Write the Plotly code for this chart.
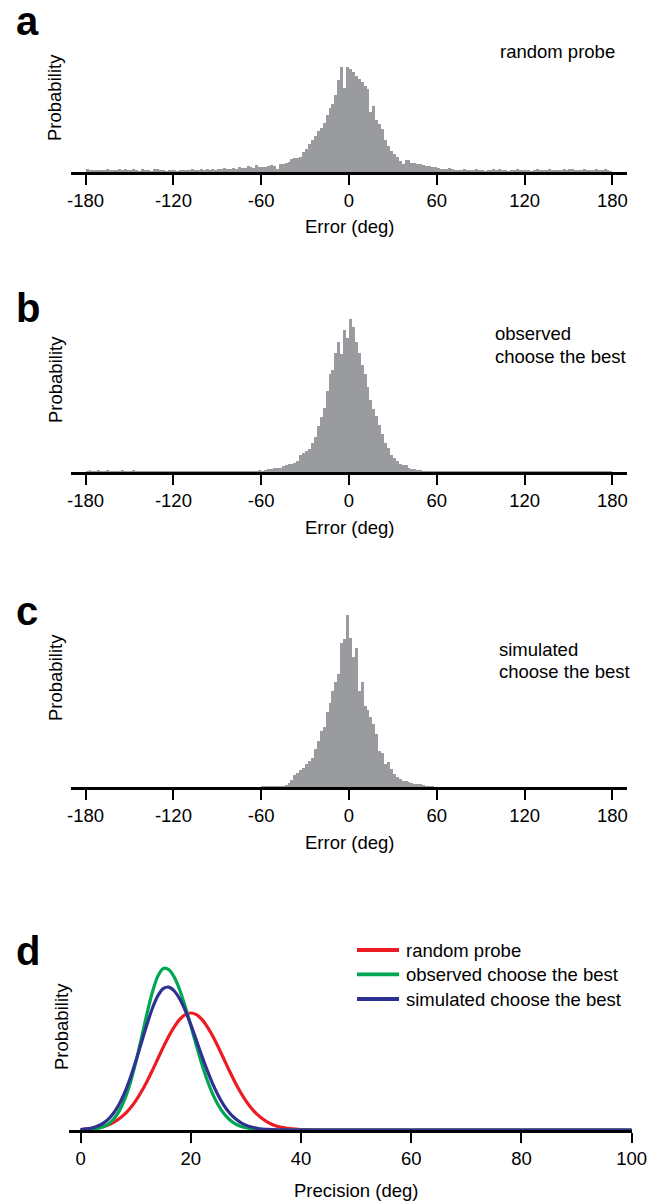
import plotly.graph_objects as go

# ---------------- data ----------------
err_bins = list(range(-179, 180, 2))

random_probe = [
    3, 2.5, 2.5, 2, 2, 2.5, 2, 3, 2.5, 2,
    2.5, 3, 2, 3.5, 2.5, 2, 3, 2.5, 1.5, 3,
    2, 2, 1.5, 3, 3.5, 2.5, 2, 1.5, 2, 2.5,
    2, 1.5, 2.5, 2, 2.5, 2, 3, 2.5, 2, 3,
    2.5, 3, 2.5, 3, 2, 3.5, 3, 4, 3.5, 3,
    4, 3.5, 5, 4.5, 4, 6, 5, 4, 6.5, 5,
    5.5, 5.5, 6, 6.5, 6, 3.5, 8, 8, 8.5, 9.5,
    13, 13.5, 14, 15, 19.5, 22, 27, 31, 34.5, 39,
    42.5, 47, 55, 61.5, 65.5, 74, 88, 100, 80, 100,
    98, 96, 92, 89, 86, 82, 79, 57, 63, 50,
    46, 41, 31, 25, 20, 17.5, 15, 11, 7.5, 12,
    12, 9, 8.5, 8, 7.5, 7, 6, 6, 5.5, 5,
    4.5, 3, 3.5, 3, 4, 3, 2.5, 2, 2.5, 3,
    2, 2.5, 2, 3, 2.5, 2, 1.5, 2.5, 2, 3,
    2.5, 3, 2, 2, 1.5, 2.5, 2, 3, 2.5, 2,
    2, 2.5, 1.5, 2, 3, 2.5, 2.5, 2, 3, 2.5,
    2, 2, 2.5, 3, 2.5, 3.5, 3, 2.5, 2, 2.5,
    3, 2.5, 2, 2.5, 3, 2.5, 2, 3, 2, 1.5,
]

observed_best = [
    1, 1.2, 0.8, 1, 1.3, 1, 0.8, 1.2, 1, 0.8,
    1, 0.8, 1.2, 1, 0.7, 1, 1.3, 0.8, 1, 0.7,
    0.8, 1, 0.6, 1, 0.8, 0.7, 1, 0.8, 0.6, 1,
    0.7, 0.5, 0.8, 0.6, 0.7, 0.9, 0.5, 0.6, 0.8, 0.5,
    0.6, 0.5, 0.7, 0.5, 0.6, 0.8, 0.5, 0.6, 0.7, 0.6,
    0.6, 0.8, 0.7, 0.6, 0.8, 0.7, 0.9, 1, 0.8, 1.2,
    1, 1.5, 2, 2, 2.5, 2.5, 3, 4, 4.5, 5.5,
    5.5, 6, 7, 11, 12.5, 14, 15, 19, 23, 30,
    36, 42, 53, 64, 67, 78, 85, 77, 93, 88,
    100, 95, 85, 78, 70, 64, 56, 47, 41, 37,
    31, 25, 19, 15.5, 11, 9, 7, 5.5, 5, 4.5,
    2.6, 2, 2, 1.5, 1.2, 1, 1, 0.8, 0.8, 0.6,
    0.6, 0.8, 0.5, 1, 0.6, 0.7, 0.5, 0.6, 0.8, 0.5,
    0.5, 0.6, 0.7, 0.5, 0.6, 0.5, 0.8, 0.6, 0.5, 0.6,
    0.7, 0.5, 0.6, 0.8, 0.6, 0.5, 0.7, 0.6, 0.5, 0.8,
    0.6, 0.7, 0.5, 0.9, 0.6, 0.7, 0.5, 0.6, 0.8, 0.6,
    0.7, 0.6, 0.8, 0.5, 0.7, 0.6, 0.9, 0.7, 0.6, 0.8,
    0.7, 0.8, 0.6, 0.7, 0.9, 0.6, 0.8, 0.7, 0.6, 0.5,
]

simulated_best = [0] * 60 + [
    0.3, 0.4, 0.5, 0.5, 0.6, 0.6, 0.8, 1, 1.5, 2.5,
    4.5, 7, 8.5, 10, 11, 13.5, 15.5, 17, 22, 27,
    33, 35, 44, 49, 56, 61, 66, 84, 86, 100,
    87, 76, 81, 56, 61, 47, 45, 41, 37, 31,
    21, 20, 13.5, 14.5, 10.7, 7.8, 5.8, 4.9, 3.9, 3.5,
    2.9, 2.3, 2.1, 2, 1.8, 1.5, 1, 0.8, 0.4, 0,
] + [0] * 60

err_ticks = [-180, -120, -60, 0, 60, 120, 180]
err_ticktext = ["-180", "-120", "-60", "0", "60", "120", "180"]

precision = [0, 1, 2, 3, 4, 5, 6, 7, 8, 9, 10, 11, 12, 13, 14, 15, 16, 17, 18, 19,
             20, 21, 22, 23, 24, 25, 26, 27, 28, 29, 30, 31, 32, 33, 34, 35, 36, 37,
             38, 39, 40, 41, 42, 43, 44, 45, 50, 60, 70, 80, 90, 100]
p_random = [0.5, 0.8, 1.3, 2.1, 3.3, 5.1, 7.7, 11.2, 15.8, 21.8, 29.2, 38.0, 48.1,
            59.2, 71.0, 82.7, 93.7, 103.2, 110.7, 115.4, 117, 115.4, 110.7, 103.2,
            93.7, 82.7, 71.0, 59.2, 48.1, 38.0, 29.2, 21.8, 15.8, 11.2, 7.7, 5.1,
            3.3, 2.1, 1.3, 0.8, 0.5, 0.3, 0.2, 0.1, 0, 0, 0, 0, 0, 0, 0, 0]
p_observed = [0.1, 0.3, 0.6, 1.4, 3.0, 5.9, 10.9, 18.9, 30.6, 46.8, 67.3, 90.9,
              115.3, 137.3, 153.6, 161.5, 160.4, 152.9, 140, 123.2, 104.2, 84.6,
              66, 49.5, 35.6, 24.7, 16.4, 10.5, 6.4, 3.8, 2.2, 1.2, 0.6, 0.3, 0.1,
              0, 0, 0, 0, 0, 0, 0, 0, 0, 0, 0, 0, 0, 0, 0, 0, 0]
p_simulated = [0.5, 1.1, 2.0, 3.7, 6.4, 10.7, 17.0, 25.8, 37.4, 51.8, 68.5, 86.7,
               104.8, 121.3, 134, 141.4, 142.9, 139, 131, 119.5, 105.4, 89.9, 74.2,
               59.3, 45.8, 34.2, 24.7, 17.3, 11.7, 7.7, 4.9, 3.0, 1.8, 1.0, 0.6,
               0.3, 0.2, 0.1, 0, 0, 0, 0, 0, 0, 0, 0, 0, 0, 0, 0, 0, 0]
prec_ticks = [0, 20, 40, 60, 80, 100]
series_names = ["random probe", "observed choose the best", "simulated choose the best"]

# ---------------- style ----------------
W, H = 647, 1203
FONT = "Liberation Sans, Arial, Helvetica, sans-serif"
FS = 18.5
GRAY = "#9a9b9f"
RED = "#ed1c24"
GREEN = "#00a651"
BLUE = "#2e3192"
COLORS = [RED, GREEN, BLUE]


def fx(x):
    return x / W


def fy(y):
    return 1 - y / H


fig = go.Figure()
for i, vals in enumerate([random_probe, observed_best, simulated_best]):
    sfx = "" if i == 0 else str(i + 1)
    fig.add_trace(go.Bar(x=err_bins, y=vals, width=2,
                         marker=dict(color=GRAY, line=dict(width=0)),
                         xaxis="x" + sfx, yaxis="y" + sfx, showlegend=False,
                         hoverinfo="skip"))

for name, vals, col in zip(series_names, [p_random, p_observed, p_simulated], COLORS):
    fig.add_trace(go.Scatter(x=precision, y=vals, mode="lines", name=name,
                             line=dict(color=col, width=3.2, shape="spline",
                                       smoothing=0.8),
                             xaxis="x4", yaxis="y4", showlegend=False))

axis_common = dict(showline=True, linecolor="black", linewidth=2.6,
                   ticks="outside", ticklen=10, tickwidth=2, tickcolor="black",
                   showgrid=False, zeroline=False, automargin=False,
                   ticklabeloverflow="allow",
                   tickfont=dict(family=FONT, size=FS, color="black"))

panels = [(172, 105), (472, 153), (787, 172)]
layout = dict(width=W, height=H, autosize=False,
              margin=dict(l=0, r=0, t=0, b=0, pad=0, autoexpand=False),
              paper_bgcolor="white", plot_bgcolor="white", bargap=0,
              barmode="overlay", showlegend=False,
              font=dict(family=FONT, size=FS, color="black"))
for i, (base, peak) in enumerate(panels):
    sfx = "" if i == 0 else str(i + 1)
    top = base - peak * 1.06
    layout["xaxis" + sfx] = dict(axis_common, domain=[fx(71), fx(627)],
                                 range=[-190, 190], anchor="y" + sfx,
                                 tickvals=err_ticks, ticktext=err_ticktext)
    layout["yaxis" + sfx] = dict(domain=[fy(base), fy(top)], range=[0, 106],
                                 anchor="x" + sfx, visible=False)

layout["xaxis4"] = dict(axis_common, domain=[fx(69), fx(631.7)],
                        range=[-2.1, 100], anchor="y4", tickvals=prec_ticks)
layout["yaxis4"] = dict(domain=[fy(1130), fy(960)], range=[0, 170], anchor="x4",
                        visible=False)

ann = []
shapes = []


def add_text(text, x, y, size=FS, xanchor="center", bold=False, angle=0):
    ann.append(dict(text=("<b>%s</b>" % text) if bold else text, x=fx(x), y=fy(y),
                    xref="paper", yref="paper", xanchor=xanchor, yanchor="middle",
                    showarrow=False, textangle=angle,
                    font=dict(family=FONT, size=size, color="black")))


add_text("a", 14, 21, size=40, xanchor="left", bold=True)
add_text("b", 14, 308, size=40, xanchor="left", bold=True)
add_text("c", 14, 611, size=40, xanchor="left", bold=True)
add_text("d", 14, 951, size=40, xanchor="left", bold=True)
for yc in [98, 380, 678]:
    add_text("Probability", 55, yc, angle=-90)
add_text("Probability", 61, 1027, angle=-90)
for yc in [226, 527, 842]:
    add_text("Error (deg)", 349, yc)
add_text("Precision (deg)", 356, 1190)
add_text("random probe", 617, 51.6, xanchor="right")
add_text("observed", 493, 333.6, xanchor="left")
add_text("choose the best", 493, 356.3, xanchor="left")
add_text("simulated", 497, 649.6, xanchor="left")
add_text("choose the best", 497, 671.6, xanchor="left")

# legend of panel d
for name, col, ly in zip(series_names, COLORS, [950, 974.3, 999]):
    shapes.append(dict(type="line", xref="paper", yref="paper",
                       x0=fx(357), x1=fx(399), y0=fy(ly), y1=fy(ly),
                       line=dict(color=col, width=3.8)))
    add_text(name, 404, ly, xanchor="left")

layout["annotations"] = ann
layout["shapes"] = shapes
fig.update_layout(**layout)

PAGE_JS = ("var s=document.createElement('style');"
           "s.innerHTML='html,body{margin:0;padding:0;overflow:hidden;}';"
           "document.head.appendChild(s);")
fig.write_html("out.html", config={"responsive": False, "displayModeBar": False},
               post_script=PAGE_JS)
